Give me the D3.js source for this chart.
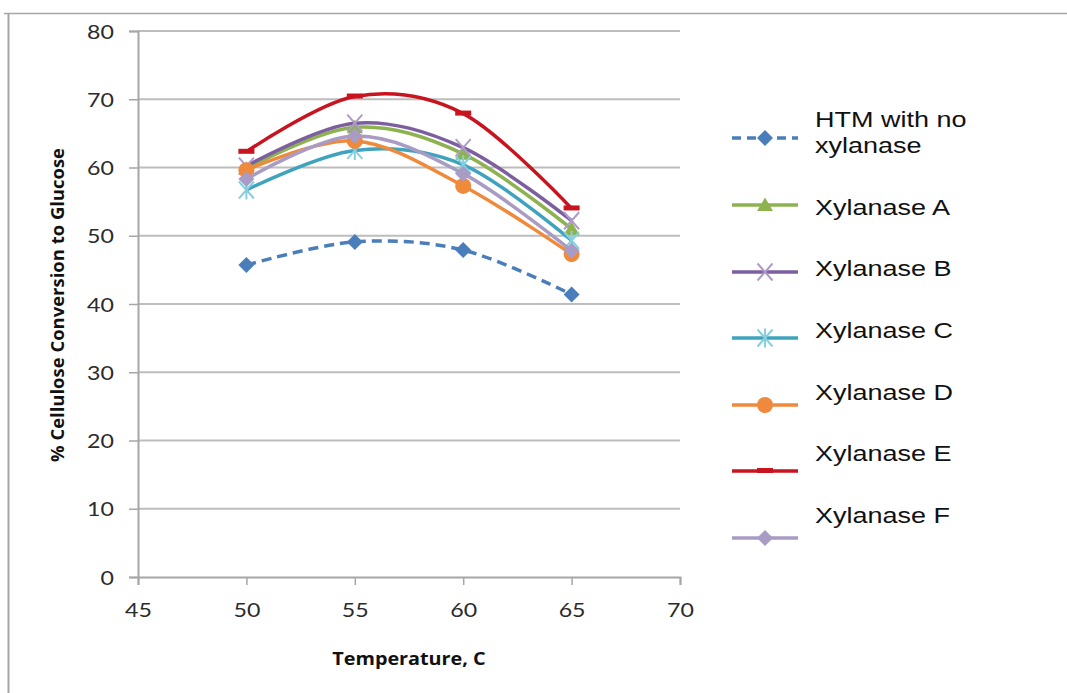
<!DOCTYPE html>
<html>
<head>
<meta charset="utf-8">
<script src="https://cdn.jsdelivr.net/npm/d3@7"></script>
<style>
  html, body { margin: 0; padding: 0; background: #fff; }
  svg { display: block; }
</style>
</head>
<body>
<svg id="chart" width="1067" height="693"></svg>
<script>
// Temperatures (x) and % cellulose conversion to glucose for each enzyme mix
const temperatures = [50, 55, 60, 65];
const htmNoXylanase = [45.7, 49.1, 47.9, 41.4];
const xylanaseA = [59.8, 65.9, 62.0, 51.0];
const xylanaseB = [60.2, 66.5, 62.9, 52.2];
const xylanaseC = [56.7, 62.5, 60.4, 49.3];
const xylanaseD = [59.6, 63.9, 57.3, 47.3];
const xylanaseE = [62.3, 70.4, 67.9, 54.0];
const xylanaseF = [58.3, 64.6, 59.1, 47.8];

const xTicks = [45, 50, 55, 60, 65, 70];
const yTicks = [0, 10, 20, 30, 40, 50, 60, 70, 80];

const series = [
  { name: ["HTM with no", "xylanase"], values: htmNoXylanase, color: "#4A7EBB", markColor: "#4A7EBB", marker: "diamond", dash: "10,6" },
  { name: ["Xylanase A"], values: xylanaseA, color: "#8DB350", markColor: "#8DB350", marker: "triangle" },
  { name: ["Xylanase B"], values: xylanaseB, color: "#7D5FA0", markColor: "#AE9BCB", marker: "x" },
  { name: ["Xylanase C"], values: xylanaseC, color: "#3FA3BD", markColor: "#86CFE0", marker: "star" },
  { name: ["Xylanase D"], values: xylanaseD, color: "#EF8A3C", markColor: "#EF8A3C", marker: "circle" },
  { name: ["Xylanase E"], values: xylanaseE, color: "#C8141E", markColor: "#C8141E", marker: "dash" },
  { name: ["Xylanase F"], values: xylanaseF, color: "#A89BC4", markColor: "#A89BC4", marker: "diamond" }
];

const svg = d3.select("#chart");

// outer chart frame
svg.append("line").attr("x1", 4).attr("x2", 1067).attr("y1", 13.5).attr("y2", 13.5)
  .attr("stroke", "#a6a6a6").attr("stroke-width", 1.5);
svg.append("line").attr("x1", 8.5).attr("x2", 8.5).attr("y1", 13.5).attr("y2", 693)
  .attr("stroke", "#a6a6a6").attr("stroke-width", 2);

const plot = { left: 138, right: 680, top: 31, bottom: 577 };

const x = d3.scaleLinear().domain([45, 70]).range([plot.left, plot.right]);
const y = d3.scaleLinear().domain([0, 80]).range([plot.bottom, plot.top]);

// horizontal gridlines
svg.append("g")
  .selectAll("line")
  .data(yTicks.filter(d => d > 0))
  .join("line")
  .attr("x1", plot.left).attr("x2", plot.right)
  .attr("y1", d => y(d)).attr("y2", d => y(d))
  .attr("stroke", "#bdbdbd").attr("stroke-width", 2);

const tickFont = "Lato, 'Open Sans', sans-serif";

// y axis
const yAxis = svg.append("g")
  .attr("transform", `translate(${plot.left},0)`)
  .call(d3.axisLeft(y).tickValues(yTicks).tickSize(9).tickPadding(0));
yAxis.select(".domain").attr("stroke", "#a6a6a6").attr("stroke-width", 2);
yAxis.selectAll(".tick line").attr("stroke", "#a6a6a6").attr("stroke-width", 1.5);
yAxis.selectAll(".tick text")
  .attr("x", null).attr("dy", null)
  .attr("transform", "translate(-24,7) scale(1.22,1)")
  .attr("font-family", tickFont).attr("font-size", 19).attr("fill", "#2b2b2b")
  .attr("text-anchor", "end");

// x axis
const xAxis = svg.append("g")
  .attr("transform", `translate(0,${plot.bottom})`)
  .call(d3.axisBottom(x).tickValues(xTicks).tickSize(8).tickPadding(0));
xAxis.select(".domain").attr("stroke", "#a6a6a6").attr("stroke-width", 2);
xAxis.selectAll(".tick line").attr("stroke", "#a6a6a6").attr("stroke-width", 1.5);
xAxis.selectAll(".tick text")
  .attr("y", null).attr("dy", null)
  .attr("transform", "translate(0,40) scale(1.22,1)")
  .attr("font-family", tickFont).attr("font-size", 19).attr("fill", "#2b2b2b")
  .attr("text-anchor", "middle");

// axis titles
svg.append("text")
  .attr("transform", "translate(409,665) scale(1.1,1)")
  .attr("text-anchor", "middle")
  .attr("font-family", "'Open Sans', Lato, sans-serif").attr("font-weight", 700)
  .attr("font-size", 18).attr("fill", "#111")
  .text("Temperature, C");

svg.append("text")
  .attr("transform", "translate(64,305) rotate(-90)")
  .attr("text-anchor", "middle")
  .attr("font-family", "'Open Sans', Lato, sans-serif").attr("font-weight", 700)
  .attr("font-size", 17.5).attr("fill", "#111")
  .attr("textLength", 314).attr("lengthAdjust", "spacingAndGlyphs")
  .text("% Cellulose Conversion to Glucose");

// marker shapes
function drawMarker(g, type, color, cx, cy) {
  const m = g.append("g").attr("transform", `translate(${cx},${cy})`);
  if (type === "diamond") {
    m.append("path").attr("d", "M0,-8L8,0L0,8L-8,0Z").attr("fill", color);
  } else if (type === "triangle") {
    m.append("path").attr("d", "M0,-7.5L8,6L-8,6Z").attr("fill", color);
  } else if (type === "x") {
    m.append("path").attr("d", "M-7.5,-8.5L7.5,8.5M7.5,-8.5L-7.5,8.5").attr("stroke", color).attr("stroke-width", 2).attr("fill", "none");
  } else if (type === "star") {
    m.append("path").attr("d", "M-7.5,-8.5L7.5,8.5M7.5,-8.5L-7.5,8.5M0,-9.5L0,9.5").attr("stroke", color).attr("stroke-width", 2).attr("fill", "none");
  } else if (type === "circle") {
    m.append("circle").attr("r", 8).attr("fill", color);
  } else if (type === "dash") {
    m.append("rect").attr("x", -8).attr("y", -3).attr("width", 16).attr("height", 5).attr("fill", color);
  }
}

const line = d3.line()
  .x((d, i) => x(temperatures[i]))
  .y(d => y(d))
  .curve(d3.curveCardinal.tension(0));

// series lines and markers
series.forEach(s => {
  const g = svg.append("g");
  g.append("path")
    .datum(s.values)
    .attr("d", line)
    .attr("fill", "none")
    .attr("stroke", s.color)
    .attr("stroke-width", 3.5)
    .attr("stroke-dasharray", s.dash || null);
  s.values.forEach((v, i) => drawMarker(g, s.marker, s.markColor, x(temperatures[i]), y(v)));
});

// legend
const legendLineY = [138, 205, 272, 338, 405, 471, 538];
const legendTextY = [[127, 153], [215], [276], [338], [400], [461], [523]];
const legend = svg.append("g");
series.forEach((s, i) => {
  legend.append("line")
    .attr("x1", 732).attr("x2", 798)
    .attr("y1", legendLineY[i]).attr("y2", legendLineY[i])
    .attr("stroke", s.color).attr("stroke-width", 3.5)
    .attr("stroke-dasharray", s.dash ? "9,6" : null);
  drawMarker(legend, s.marker, s.markColor, 765, legendLineY[i]);
  s.name.forEach((t, k) => {
    legend.append("text")
      .attr("transform", `translate(815,${legendTextY[i][k]}) scale(1.2,1)`)
      .attr("font-family", "'Liberation Sans', Arial, sans-serif")
      .attr("font-size", 22.5).attr("fill", "#111")
      .text(t);
  });
});
</script>
</body>
</html>
